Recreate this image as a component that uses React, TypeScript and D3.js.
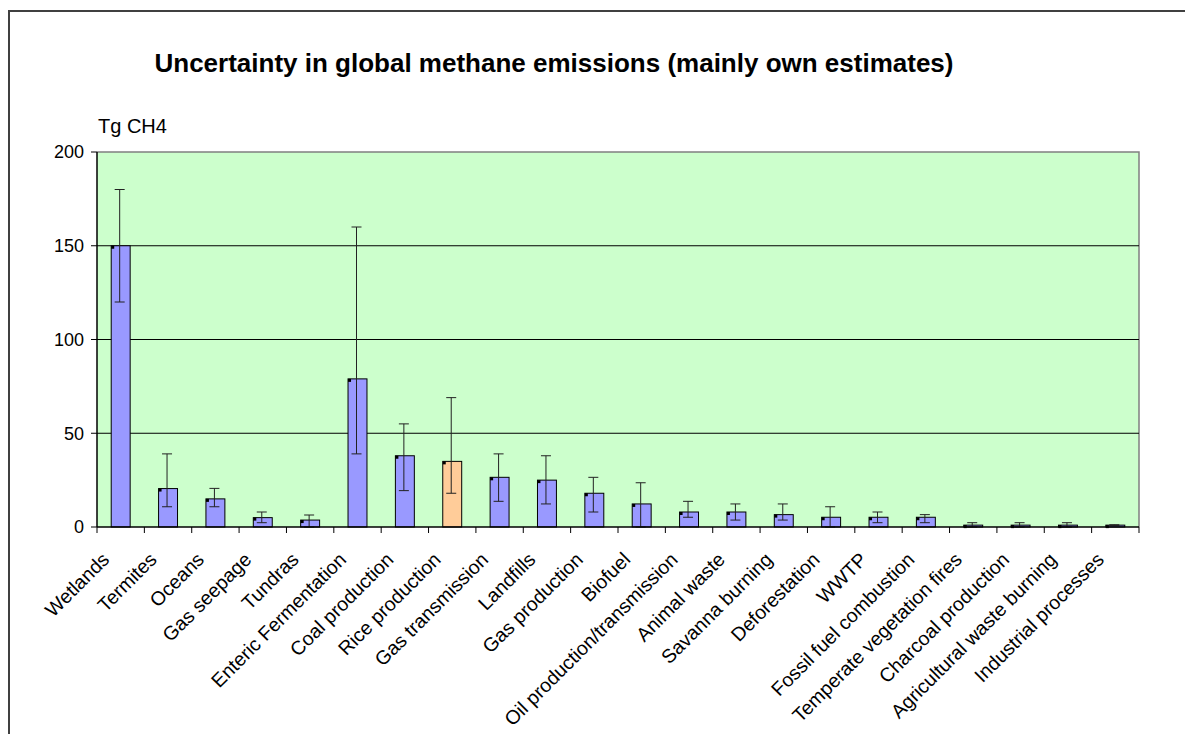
import { useEffect } from "react";
import * as d3 from "d3";

// Methane sources, best estimate and uncertainty range (Tg CH4).
const CATEGORIES = [
  "Wetlands",
  "Termites",
  "Oceans",
  "Gas seepage",
  "Tundras",
  "Enteric Fermentation",
  "Coal production",
  "Rice production",
  "Gas transmission",
  "Landfills",
  "Gas production",
  "Biofuel",
  "Oil production/transmission",
  "Animal waste",
  "Savanna burning",
  "Deforestation",
  "WWTP",
  "Fossil fuel combustion",
  "Temperate vegetation fires",
  "Charcoal production",
  "Agricultural waste burning",
  "Industrial processes",
];
const VALUES = [150, 20.5, 15, 5, 3.7, 79, 38, 35, 26.5, 25, 18, 12.3, 8, 8, 6.6, 5.2, 5.2, 5.2, 1, 1, 1, 1];
const UPPER = [180, 39, 20.6, 8, 6.4, 160, 55, 69, 39, 38, 26.5, 23.6, 13.7, 12.3, 12.3, 10.8, 8, 6.6, 2.3, 2.3, 2.3, 1.2];
const LOWER = [120, 10.8, 10.8, 2.3, 0, 39, 19.4, 18, 13.7, 12.3, 8, 0, 5.2, 3.7, 3.7, 0, 2.3, 2.3, 0, 0, 0, 0.8];
const HIGHLIGHT = "Rice production";
const Y_TICKS = [0, 50, 100, 150, 200];

const W = 1185;
const H = 734;
const FONT = "'Liberation Sans', Arial, sans-serif";

export default function App() {
  useEffect(() => {
    document.body.style.margin = "0";
    document.body.style.overflow = "hidden";
  }, []);

  const plot = { left: 97, right: 1139, top: 152, bottom: 527 };
  const x = d3.scaleBand<string>().domain(CATEGORIES).range([plot.left, plot.right]);
  const y = d3.scaleLinear().domain([0, 200]).range([plot.bottom, plot.top]);
  const bw = x.bandwidth() * 0.4;
  const tickXs = d3.range(CATEGORIES.length + 1).map((i) => plot.left + i * x.step());

  return (
    <svg width={W} height={H} style={{ display: "block", background: "#fff" }} fontFamily={FONT}>
      {/* outer chart frame (runs off the picture on the right and bottom) */}
      <rect x={9} y={11} width={1400} height={1000} fill="#fff" stroke="#404040" strokeWidth={2} />

      <text x={554} y={72} textAnchor="middle" fontSize={26} fontWeight="bold" fill="#000">
        Uncertainty in global methane emissions (mainly own estimates)
      </text>
      <text x={98} y={133} fontSize={20} fill="#000">
        Tg CH4
      </text>

      {/* plot area */}
      <rect
        x={plot.left}
        y={plot.top}
        width={plot.right - plot.left}
        height={plot.bottom - plot.top}
        fill="#CCFFCC"
      />
      <path
        d={`M${plot.left},${plot.top}H${plot.right}V${plot.bottom}`}
        fill="none"
        stroke="#808080"
        strokeWidth={1.5}
      />
      {Y_TICKS.filter((t) => t > 0 && t < 200).map((t) => (
        <line key={t} x1={plot.left} x2={plot.right} y1={y(t)} y2={y(t)} stroke="#000" strokeWidth={1} />
      ))}

      {/* bars */}
      {CATEGORIES.map((c, i) => {
        const cx = x(c)! + x.bandwidth() / 2;
        const bx = cx - bw / 2;
        const top = y(VALUES[i]);
        const ex = cx - 1;
        return (
          <g key={c}>
            <rect
              x={bx}
              y={top}
              width={bw}
              height={plot.bottom - top}
              fill={c === HIGHLIGHT ? "#FFCC99" : "#9999FF"}
              stroke="#000"
              strokeWidth={1}
            />
            <rect x={bx} y={top} width={3} height={3} fill="#000" />
            <line x1={ex} x2={ex} y1={y(UPPER[i])} y2={y(LOWER[i])} stroke="#222" strokeWidth={1} />
            <line x1={ex - 5} x2={ex + 5} y1={y(UPPER[i])} y2={y(UPPER[i])} stroke="#222" strokeWidth={1} />
            <line x1={ex - 5} x2={ex + 5} y1={y(LOWER[i])} y2={y(LOWER[i])} stroke="#222" strokeWidth={1} />
          </g>
        );
      })}

      {/* y axis */}
      <line x1={plot.left} x2={plot.left} y1={plot.top} y2={plot.bottom} stroke="#000" strokeWidth={1.5} />
      {Y_TICKS.map((t) => (
        <g key={t}>
          <line x1={plot.left - 6} x2={plot.left} y1={y(t)} y2={y(t)} stroke="#000" strokeWidth={1} />
          <text x={84} y={y(t)} dy="0.35em" textAnchor="end" fontSize={18} fill="#000">
            {t}
          </text>
        </g>
      ))}

      {/* x axis */}
      <line x1={plot.left} x2={plot.right} y1={plot.bottom} y2={plot.bottom} stroke="#000" strokeWidth={1.5} />
      {tickXs.map((tx, i) => (
        <line key={i} x1={tx} x2={tx} y1={plot.bottom} y2={plot.bottom + 6} stroke="#000" strokeWidth={1} />
      ))}
      {CATEGORIES.map((c) => {
        const cx = x(c)! + x.bandwidth() / 2;
        return (
          <text
            key={c}
            transform={`translate(${cx - 20},${plot.bottom + 24}) rotate(-45)`}
            dy="0.71em"
            textAnchor="end"
            fontSize={19.5}
            fill="#000"
          >
            {c}
          </text>
        );
      })}
    </svg>
  );
}
